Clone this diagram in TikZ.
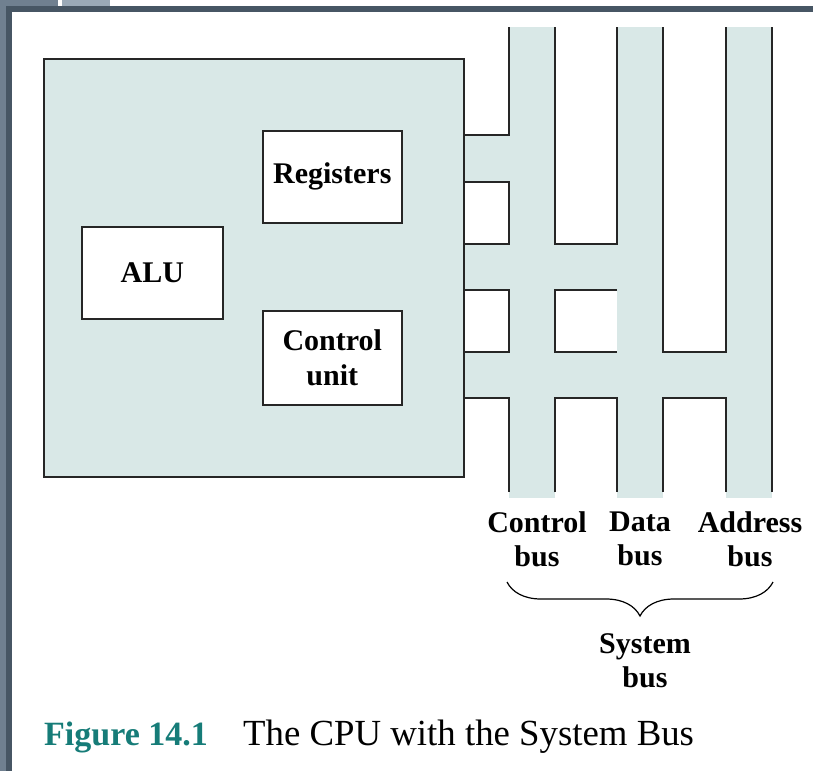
\documentclass[tikz,border=0pt]{standalone}
\usepackage{fontspec}
\setmainfont{Liberation Serif}
\usetikzlibrary{decorations.pathreplacing}
\definecolor{busfill}{RGB}{217,232,231}
\definecolor{frameA}{RGB}{112,128,144}
\definecolor{frameB}{RGB}{71,86,100}
\definecolor{frameC}{RGB}{155,170,184}
\definecolor{figteal}{RGB}{22,124,120}
\begin{document}
\begin{tikzpicture}[x=1pt,y=-1pt,
  edge/.style={line width=1.6pt, draw=black!85},
  unitbox/.style={draw=black!85, line width=1.6pt, fill=white, anchor=north west,
    align=center, inner sep=0pt, font=\fontsize{30}{35}\selectfont\bfseries},
  cpubox/.style={draw=black!85, line width=1.6pt, fill=busfill, anchor=north west, inner sep=0pt},
  lab/.style={align=center, inner sep=0pt, font=\fontsize{30}{34}\selectfont\bfseries}]

\useasboundingbox (0,0) rectangle (813,771);
\fill[white] (0,0) rectangle (813,771);

% window frame
\fill[frameA] (0,0) rectangle (6,771);
\fill[frameA] (0,0) rectangle (58,6);
\fill[frameC] (62,0) rectangle (110,6);
\fill[frameB] (6,6) rectangle (813,12);
\fill[frameB] (6,6) rectangle (12,771);

% bus and link fills
\fill[busfill] (509,27) rectangle (555,498);
\fill[busfill] (617,27) rectangle (663,498);
\fill[busfill] (726,27) rectangle (772,498);
\fill[busfill] (463,135) rectangle (509,182);
\fill[busfill] (463,244) rectangle (617,290);
\fill[busfill] (463,352) rectangle (726,398);

% processor and its units
\node[cpubox, minimum width=420pt, minimum height=418pt] (cpu) at (43,58) {};
\node[unitbox, minimum width=139pt, minimum height=92pt] (reg) at (262,130) {Registers};
\node[unitbox, minimum width=141pt, minimum height=92pt] (alu) at (81,226) {ALU};
\node[unitbox, minimum width=139pt, minimum height=94pt] (cu) at (262,310) {Control\\unit};

% bus outlines
\begin{scope}[edge]
  \draw (509,27) -- (509,135) -- (cpu.east |- 0,135);
  \draw (cpu.east |- 0,182) -- (509,182) -- (509,244) -- (cpu.east |- 0,244);
  \draw (cpu.east |- 0,290) -- (509,290) -- (509,352) -- (cpu.east |- 0,352);
  \draw (cpu.east |- 0,398) -- (509,398) -- (509,492);
  \draw (555,27) -- (555,244) -- (617,244) -- (617,27);
  \draw (617,290) -- (555,290) -- (555,352) -- (617,352);
  \draw (555,492) -- (555,398) -- (617,398) -- (617,492);
  \draw (663,27) -- (663,352) -- (726,352) -- (726,27);
  \draw (663,492) -- (663,398) -- (726,398) -- (726,492);
  \draw (772,27) -- (772,492);
\end{scope}

% bus names
\node[lab] (cbus) at (537,539) {Control\\bus};
\node[lab] (dbus) at (640,539) {Data\\bus};
\node[lab] (abus) at (750,539) {Address\\bus};

\coordinate (bl) at (507,582);
\coordinate (br) at (773,582);
\draw[line width=1.2pt, decorate, decoration={brace, mirror, amplitude=34pt}] (bl) -- (br);
\node[lab] (sbus) at (645,661) {System\\bus};

% caption
\node[anchor=base west, inner sep=0pt, text=figteal, font=\fontsize{34}{40}\selectfont\bfseries] (fignum) at (44,745) {Figure 14.1};
\node[anchor=base west, inner sep=0pt, font=\fontsize{36.8}{40}\selectfont] (figcap) at (243,745) {The CPU with the System Bus};
\end{tikzpicture}
\end{document}
